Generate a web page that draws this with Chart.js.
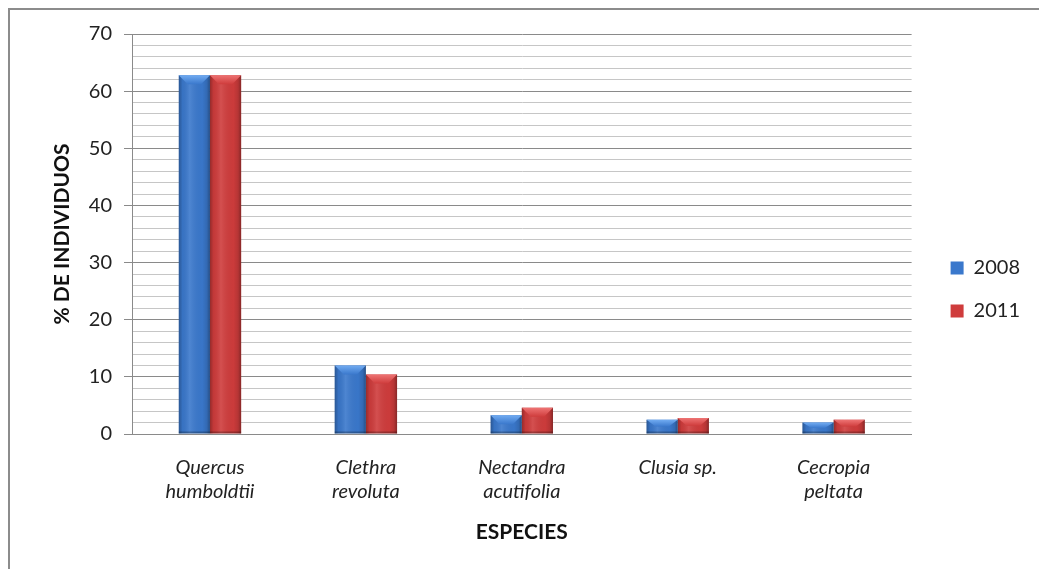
<!DOCTYPE html>
<html>
<head>
<meta charset="utf-8">
<title>% de individuos por especie</title>
<script src="https://cdn.jsdelivr.net/npm/chart.js@4.4.1/dist/chart.umd.min.js"></script>
<style>
  html, body { margin: 0; padding: 0; background: #fff; overflow: hidden; }
  #wrap { position: relative; width: 1039px; height: 569px; overflow: hidden; }
  #frame {
    position: absolute; left: 8px; top: 8px; width: 1200px; height: 800px;
    border-left: 2px solid #8c8c8c; border-top: 2px solid #8c8c8c;
    pointer-events: none;
  }
  canvas { position: absolute; left: 0; top: 0; }
</style>
</head>
<body>
<div id="wrap">
  <canvas id="chart" width="1039" height="569"></canvas>
  <div id="frame"></div>
</div>
<script>
// especies (etiquetas en dos líneas)
const species = [
  ['Quercus', 'humboldtii'],
  ['Clethra', 'revoluta'],
  ['Nectandra', 'acutifolia'],
  ['Clusia sp.'],
  ['Cecropia', 'peltata']
];
const years = ['2008', '2011'];
const pct2008 = [62.8, 12.0, 3.3, 2.5, 2.0];
const pct2011 = [62.8, 10.4, 4.6, 2.8, 2.5];

const yMax = 70;
const yStep = 2;       // líneas menores
const yLabelStep = 10; // líneas mayores con etiqueta

const FONT = 'Lato, "Open Sans", sans-serif';

// tonos de cada serie: base, borde oscuro, bisel claro
const palette = [
  { base: '#3a78cc', dark: '#24559e', light: '#72acf2' },
  { base: '#cf3c3c', dark: '#9a2626', light: '#ee7474' }
];

// sombreado tipo "bisel" sobre las barras que dibuja Chart.js
const bevelBars = {
  id: 'bevelBars',
  afterDatasetsDraw(chart) {
    const ctx = chart.ctx;
    chart.data.datasets.forEach((ds, di) => {
      const meta = chart.getDatasetMeta(di);
      const col = palette[di];
      meta.data.forEach(bar => {
        const { x, y, base, width } = bar.getProps(['x', 'y', 'base', 'width'], true);
        const l = x - width / 2, r = x + width / 2;
        const h = base - y;
        ctx.save();
        const g = ctx.createLinearGradient(l, 0, r, 0);
        g.addColorStop(0, 'rgba(0,0,0,0.28)');
        g.addColorStop(0.12, 'rgba(0,0,0,0.05)');
        g.addColorStop(0.35, 'rgba(255,255,255,0.10)');
        g.addColorStop(0.75, 'rgba(0,0,0,0.02)');
        g.addColorStop(0.9, 'rgba(0,0,0,0.12)');
        g.addColorStop(1, 'rgba(0,0,0,0.35)');
        ctx.fillStyle = g;
        ctx.fillRect(l, y, width, h);
        // borde inferior oscuro
        ctx.fillStyle = 'rgba(0,0,0,0.25)';
        ctx.fillRect(l, base - 2, width, 2);
        // bisel superior
        const bh = Math.min(9, h / 2);
        const inset = Math.min(9, width / 3);
        ctx.beginPath();
        ctx.moveTo(l, y);
        ctx.lineTo(r, y);
        ctx.lineTo(r - inset, y + bh);
        ctx.lineTo(l + inset, y + bh);
        ctx.closePath();
        const gb = ctx.createLinearGradient(0, y, 0, y + bh);
        gb.addColorStop(0, col.light);
        gb.addColorStop(1, col.base);
        ctx.fillStyle = gb;
        ctx.fill();
        ctx.restore();
      });
    });
  }
};

// separa la leyenda del área de trazado
const legendGap = {
  id: 'legendGap',
  afterLayout(chart, args, opts) {
    const lg = chart.legend;
    if (!lg) return;
    lg.left += opts.shift;
    lg.right += opts.shift;
  }
};

new Chart(document.getElementById('chart'), {
  type: 'bar',
  data: {
    labels: species,
    datasets: [
      { label: years[0], data: pct2008, backgroundColor: palette[0].base, borderWidth: 0 },
      { label: years[1], data: pct2011, backgroundColor: palette[1].base, borderWidth: 0 }
    ]
  },
  options: {
    responsive: false,
    animation: false,
    events: [],
    layout: { padding: { left: 50, top: 34, right: 25, bottom: 24 } },
    datasets: {
      bar: { categoryPercentage: 0.4, barPercentage: 1.0 }
    },
    plugins: {
      tooltip: { enabled: false },
      legendGap: { shift: 16 },
      legend: {
        position: 'right',
        labels: {
          boxWidth: 13,
          boxHeight: 13,
          padding: 23,
          color: '#222',
          font: { family: FONT, size: 20 }
        }
      }
    },
    scales: {
      x: {
        grid: { display: false },
        border: { display: true, color: '#8a8a8a', width: 1 },
        ticks: {
          color: '#222',
          padding: 14,
          maxRotation: 0,
          font: { family: FONT, size: 20, style: 'italic' }
        },
        title: {
          display: true,
          text: 'ESPECIES',
          color: '#111',
          padding: { top: 4, bottom: 0 },
          font: { family: FONT, size: 21, weight: 'bold' }
        },
        afterFit(axis) { axis.height = 111; }
      },
      y: {
        min: 0,
        max: yMax,
        ticks: {
          stepSize: yStep,
          autoSkip: false,
          color: '#222',
          padding: 12,
          font: { family: FONT, size: 20 },
          callback: v => (v % yLabelStep === 0 ? v : '')
        },
        grid: {
          color: c => (c.tick && c.tick.value % yLabelStep === 0 ? '#8a8a8a' : '#c6c6c6'),
          tickColor: c => (c.tick && c.tick.value % yLabelStep === 0 ? '#8a8a8a' : 'rgba(0,0,0,0)'),
          tickLength: 8,
          lineWidth: 1
        },
        border: { display: true, color: '#8a8a8a', width: 1 },
        title: {
          display: true,
          text: '% DE INDIVIDUOS',
          color: '#111',
          padding: { top: 0, bottom: 0 },
          font: { family: FONT, size: 21, weight: 'bold' }
        },
        afterFit(axis) { axis.width = 82; }
      }
    }
  },
  plugins: [bevelBars, legendGap]
});
</script>
</body>
</html>
